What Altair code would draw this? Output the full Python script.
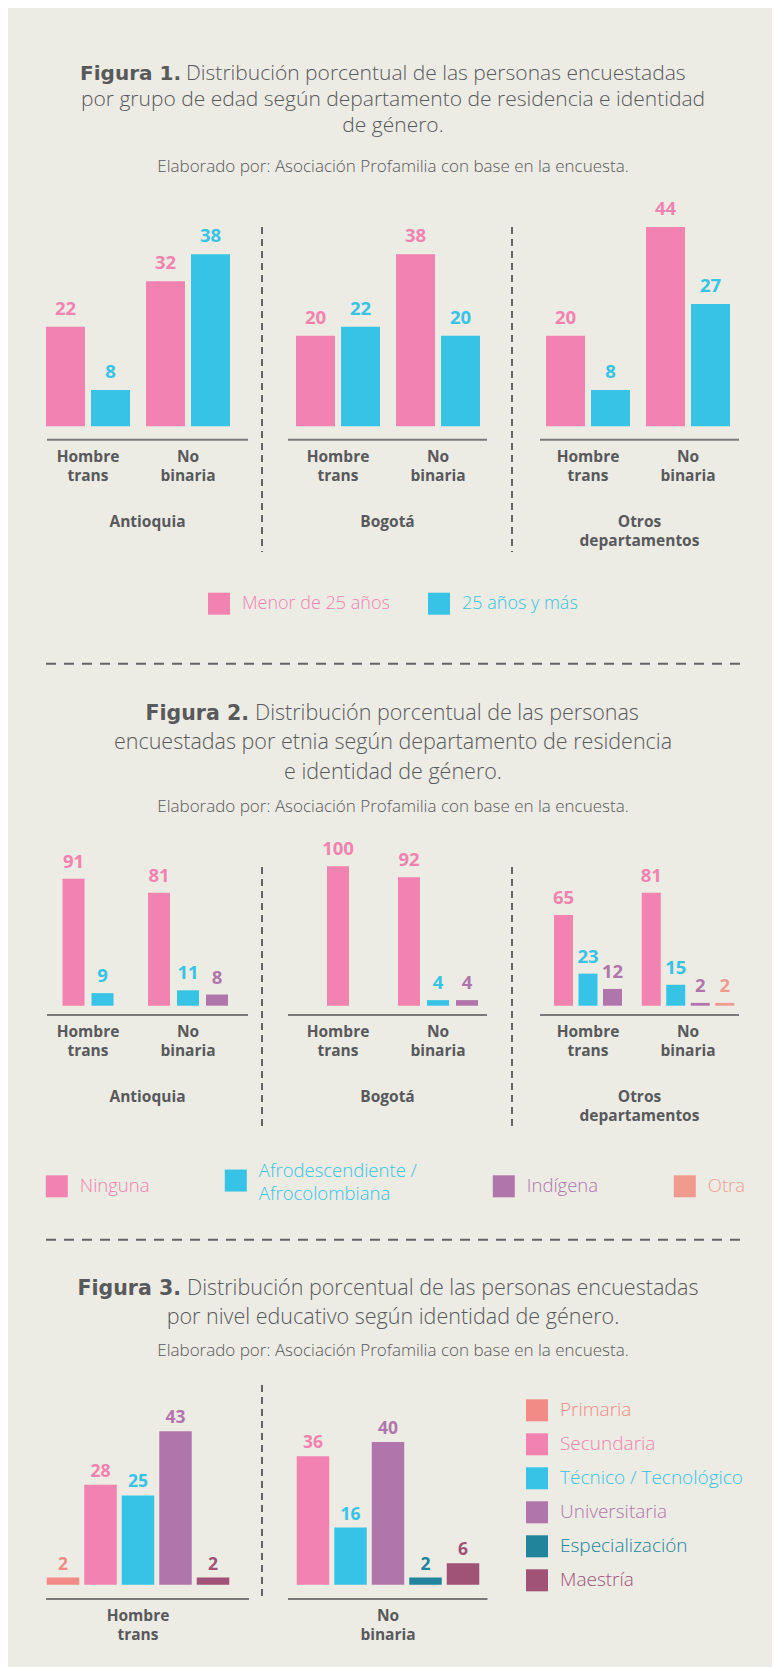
import json
import altair as alt
import pandas as pd

# ---------------- datos ----------------
deptos_etiqueta = ["Antioquia", "Bogotá", "Otros\ndepartamentos"]
generos = ["Hombre trans", "No binaria"]
generos_etiqueta = ["Hombre\ntrans", "No\nbinaria"]

# Figura 1 (orden: Antioquia-HT, Antioquia-NB, Bogotá-HT, Bogotá-NB, Otros-HT, Otros-NB)
edades = ["Menor de 25 años", "25 años y más"]
f1_menor_25 = [22, 32, 20, 38, 20, 44]
f1_25_y_mas = [8, 38, 22, 20, 8, 27]

# Figura 2
etnias = ["Ninguna", "Afrodescendiente /\nAfrocolombiana", "Indígena", "Otra"]
f2_ninguna = [91, 81, 100, 92, 65, 81]
f2_afro = [9, 11, 0, 4, 23, 15]
f2_indigena = [0, 8, 0, 4, 12, 2]
f2_otra = [0, 0, 0, 0, 0, 2]

# Figura 3
niveles = ["Primaria", "Secundaria", "Técnico / Tecnológico", "Universitaria",
           "Especialización", "Maestría"]
f3_hombre_trans = [2, 28, 25, 43, 0, 2]
f3_no_binaria = [0, 36, 16, 40, 2, 6]
f3_generos_etiqueta = ["Hombre\ntrans", "No\nbinaria"]

titulo1 = ["Figura 1.", "Distribución porcentual de las personas encuestadas",
           "por grupo de edad según departamento de residencia e identidad",
           "de género."]
titulo2 = ["Figura 2.", "Distribución porcentual de las personas",
           "encuestadas por etnia según departamento de residencia",
           "e identidad de género."]
titulo3 = ["Figura 3.", "Distribución porcentual de las personas encuestadas",
           "por nivel educativo según identidad de género."]
fuente = "Elaborado por: Asociación Profamilia con base en la encuesta."

# ---------------- estilos ----------------
BG = "#ECEBE4"
GREY = "#58595B"
AXIS = "#7A7A7A"
SEP = "#646466"
FONT = "Open Sans"
BOLD_TITLE_FONT = "DejaVu Sans"
edad_colores = ["#F283B0", "#37C3E6"]
etnia_colores = ["#F283B0", "#37C3E6", "#B076AC", "#F09B8E"]
nivel_colores = ["#F28B86", "#F283B0", "#37C3E6", "#B076AC", "#21849B", "#A05377"]

CW = 759      # ancho del contenido
W = 250       # ancho de cada panel
BAND_PAD = 0.25
LAB_SIZE = 15.5
LAB_LH = 19
ONE = pd.DataFrame({"k": [0]})


def band_paddings(B, n, bw, gap):
    """paddingInner / paddingOuter so that n bars of width bw, separated by gap,
    sit centred in a band of width B."""
    step = bw + gap
    pin = gap / step
    pout = (B / step - n + pin) / 2
    if pout > 1:
        pout = 1.0
        pin = (B - bw * (n + 2)) / (B - bw)
    return pin, max(pout, 0.0)


def color_expr(names, colors):
    return (f"{json.dumps(colors, ensure_ascii=False)}"
            f"[indexof({json.dumps(names, ensure_ascii=False)}, datum.value)]")


def make_legend(names, colors, lx, ly, direction, colpad=10, rowpad=2, size=18):
    return alt.Legend(
        orient="none", legendX=lx, legendY=ly, direction=direction, title=None,
        symbolType="square", symbolSize=484, symbolStrokeWidth=0, symbolOpacity=1,
        labelFont=FONT, labelFontSize=size, labelFontWeight=300, labelOffset=12,
        labelLimit=0, columnPadding=colpad, rowPadding=rowpad,
        labelColor=alt.ExprRef(expr=color_expr(names, colors)),
        labelBaseline=alt.ExprRef(expr="indexof(datum.label, '\\n') >= 0 ? 'bottom' : 'middle'"),
        labelExpr="split(datum.label, '\\n')",
    )


def rule_h(x0, x1, y, color=AXIS, dash=None):
    kw = dict(color=color, strokeWidth=2)
    if dash:
        kw["strokeDash"] = dash
    return alt.Chart(ONE).mark_rule(**kw).encode(
        x=alt.value(x0), x2=alt.value(x1), y=alt.value(y))


def rule_v(x, y0, y1):
    return alt.Chart(ONE).mark_rule(color=SEP, strokeWidth=2, strokeDash=[7, 5]).encode(
        x=alt.value(x), y=alt.value(y0), y2=alt.value(y1))


def label_text(text, x, y):
    return alt.Chart(pd.DataFrame({"t": [text]})).mark_text(
        font=FONT, fontWeight="bold", fontSize=LAB_SIZE, color=GREY, align="center",
        baseline="top", lineBreak="\n", lineHeight=LAB_LH).encode(
        x=alt.value(x), y=alt.value(y), text="t:N")


def grouped_panel(d, cats, colors, series, bw, gap, ydom, yrange, H, num_dy,
                  lab_y, dept_y, axis_x, axis_y, sep, legend):
    cscale = alt.Scale(domain=cats, range=colors)
    xscale = alt.Scale(domain=generos, paddingInner=0, paddingOuter=BAND_PAD)
    yscale = alt.Scale(domain=ydom, range=yrange)
    band = W / (len(generos) + 2 * BAND_PAD)
    layers = []
    for gi, g in enumerate(generos):
        k = d * len(generos) + gi
        present = [(c, s[k]) for c, s in zip(cats, series) if s[k] > 0]
        pin, pout = band_paddings(band, len(present), bw, gap)
        df = pd.DataFrame({"genero": g, "cat": [c for c, _ in present],
                           "valor": [v for _, v in present]})
        enc = dict(
            x=alt.X("genero:N", scale=xscale, axis=None),
            xOffset=alt.XOffset("cat:N", scale=alt.Scale(
                domain=[c for c, _ in present], paddingInner=pin, paddingOuter=pout)),
            y=alt.Y("valor:Q", scale=yscale, axis=None),
        )
        bars = alt.Chart(df).mark_bar().encode(
            color=alt.Color("cat:N", scale=cscale, legend=legend), **enc)
        nums = alt.Chart(df).mark_text(
            font=FONT, fontWeight="bold", fontSize=18.5, baseline="alphabetic",
            dy=num_dy).encode(
            text=alt.Text("valor:Q"),
            color=alt.Color("cat:N", scale=cscale, legend=None), **enc)
        layers.append(alt.layer(bars, nums))
    labs = alt.Chart(pd.DataFrame({"genero": generos, "etiqueta": generos_etiqueta})).mark_text(
        font=FONT, fontWeight="bold", fontSize=LAB_SIZE, color=GREY, align="center",
        baseline="top", lineBreak="\n", lineHeight=LAB_LH).encode(
        x=alt.X("genero:N", scale=xscale, axis=None), y=alt.value(lab_y), text="etiqueta:N")
    parts = layers + [rule_h(axis_x[0], axis_x[1], axis_y), labs,
                      label_text(deptos_etiqueta[d], (axis_x[0] + axis_x[1]) / 2, dept_y)]
    if sep:
        parts.append(rule_v(249, sep[0], sep[1]))
    return alt.layer(*parts).resolve_scale(xOffset="independent").properties(width=W, height=H)


def title_block(lines, H, bold_x, light_x, baselines, sub_base, sep_y=None, size=21.5):
    cx = 380
    parts = [
        alt.Chart(ONE).mark_text(font=BOLD_TITLE_FONT, fontWeight="bold", fontSize=size - 1,
                                 color=GREY, align="right", baseline="alphabetic").encode(
            x=alt.value(bold_x), y=alt.value(baselines[0]), text=alt.value(lines[0])),
        alt.Chart(ONE).mark_text(font=FONT, fontWeight=300, fontSize=size, color=GREY,
                                 align="left", baseline="alphabetic").encode(
            x=alt.value(light_x), y=alt.value(baselines[0]), text=alt.value(lines[1])),
    ]
    for line, yb in zip(lines[2:], baselines[1:]):
        parts.append(alt.Chart(ONE).mark_text(font=FONT, fontWeight=300, fontSize=size,
                                              color=GREY, align="center",
                                              baseline="alphabetic").encode(
            x=alt.value(cx), y=alt.value(yb), text=alt.value(line)))
    parts.append(alt.Chart(ONE).mark_text(font=FONT, fontWeight=300, fontSize=17, color=GREY,
                                          align="center", baseline="alphabetic").encode(
        x=alt.value(cx), y=alt.value(sub_base), text=alt.value(fuente)))
    if sep_y is not None:
        parts.append(rule_h(33, 731, sep_y, color=SEP, dash=[10, 8]))
    return alt.layer(*parts).properties(width=CW, height=H)


AXIS_X = [(34, 235), (25, 224), (27, 226)]

# ---------------- Figura 1 ----------------
leg1 = make_legend(edades, edad_colores, 195, 390.7, "horizontal", colpad=38)
fig1 = alt.hconcat(*[
    grouped_panel(d, edades, edad_colores, [f1_menor_25, f1_25_y_mas], 39, 6,
                  [0, 44], [224.3, 25], 440, -12, 248.2, 312.5, AXIS_X[d], 237.7,
                  (25, 350) if d < 2 else None, leg1)
    for d in range(3)], spacing=0)

# ---------------- Figura 2 ----------------
leg2 = make_legend(etnias, etnia_colores, 32.8, 337.3, "horizontal", colpad=75, size=18.5)
fig2_bw = [(22, 7), (22, 7), (19, 5.5)]
fig2 = alt.hconcat(*[
    grouped_panel(d, etnias, etnia_colores, [f2_ninguna, f2_afro, f2_indigena, f2_otra],
                  fig2_bw[d][0], fig2_bw[d][1], [0, 100], [173.7, 34.2], 380, -11,
                  193.2, 258.2, AXIS_X[d], 183, (35, 295) if d < 2 else None, leg2)
    for d in range(3)], spacing=0)

# ---------------- Figura 3 ----------------
leg3 = make_legend(niveles, nivel_colores, 513, 27.3, "vertical", rowpad=12, size=19)


def fig3_panel(i, vals, axis_x, sep):
    present = [(nv, v) for nv, v in zip(niveles, vals) if v > 0]
    pin, pout = band_paddings(W, len(present), 32.5, 5)
    df = pd.DataFrame({"nivel": [a for a, _ in present], "valor": [b for _, b in present]})
    cscale = alt.Scale(domain=niveles, range=nivel_colores)
    enc = dict(
        x=alt.X("nivel:N", scale=alt.Scale(domain=[a for a, _ in present],
                                           paddingInner=pin, paddingOuter=pout), axis=None),
        y=alt.Y("valor:Q", scale=alt.Scale(domain=[0, 43], range=[212.7, 59.2]), axis=None),
    )
    bars = alt.Chart(df).mark_bar().encode(
        color=alt.Color("nivel:N", scale=cscale, legend=leg3), **enc)
    nums = alt.Chart(df).mark_text(font=FONT, fontWeight="bold", fontSize=17.5,
                                   baseline="alphabetic", dy=-8).encode(
        text=alt.Text("valor:Q"), color=alt.Color("nivel:N", scale=cscale, legend=None), **enc)
    parts = [bars, nums, rule_h(axis_x[0], axis_x[1], 227),
             label_text(f3_generos_etiqueta[i], 125, 237.2)]
    if sep:
        parts.append(rule_v(249, 13, 226))
    return alt.layer(*parts).properties(width=W, height=297)


fig3 = alt.hconcat(fig3_panel(0, f3_hombre_trans, (33, 236), True),
                   fig3_panel(1, f3_no_binaria, (25, 224.5), False), spacing=0)

# ---------------- títulos ----------------
b1 = title_block(titulo1, 192, 168, 173, [72, 98, 124], 164, size=21)
b3 = title_block(titulo2, 190, 236, 242, [77.7, 106.7, 136.7], 170, sep_y=21.7)
b5 = title_block(titulo3, 160, 168, 174, [83.3, 111.7], 144.3, sep_y=27.7)

chart = alt.vconcat(b1, fig1, b3, fig2, b5, fig3, spacing=0).resolve_scale(
    color="independent").resolve_legend(color="independent").properties(
    padding={"left": 5, "top": 0, "right": 0, "bottom": 0}, background=BG
).configure(
    view=alt.ViewConfig(strokeWidth=0, stroke="transparent"),
    style={"guide-label": {"lineHeight": 23}},
)

chart.save("out.html", embed_options={"renderer": "svg", "actions": False})
